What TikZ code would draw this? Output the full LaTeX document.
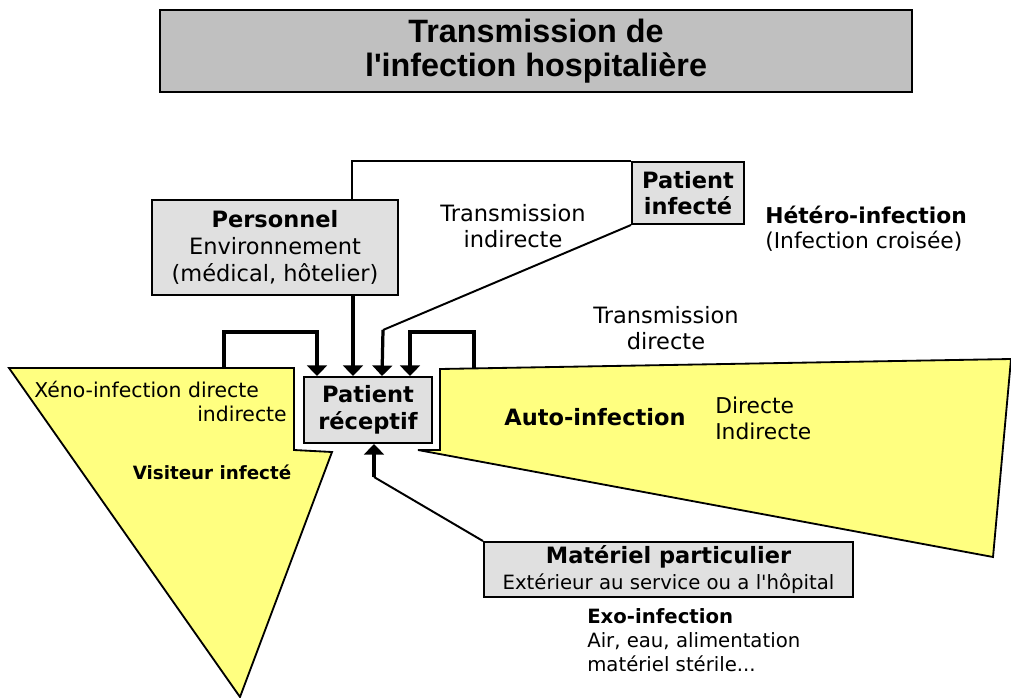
\documentclass[tikz,border=0pt]{standalone}
\usepackage{fontspec}
\setmainfont{DejaVu Sans}
\newfontfamily\titlefont{Liberation Sans}
\usetikzlibrary{arrows.meta}
\usetikzlibrary{calc}
\definecolor{boxgray}{RGB}{224,224,224}
\definecolor{titlegray}{RGB}{192,192,192}
\definecolor{paleyellow}{RGB}{255,255,128}
\tikzset{
	box/.style = {draw, line width=1.4pt, fill=boxgray, align=center, inner sep=0pt, font=\fontsize{16}{19.5}\selectfont},
	link/.style = {line width=1.4pt},
	feed/.style = {line width=2.3pt, -{Triangle[width=14pt,length=7.5pt]}},
	zone/.style = {draw, line width=1.3pt, fill=paleyellow},
	note/.style = {align=center, inner sep=0pt, font=\fontsize{16}{19}\selectfont},
}

\begin{document}
\begin{tikzpicture}[x=0.025cm, y=-0.025cm]
	\useasboundingbox (0,0) rectangle (1011,697);
	\coordinate (v1) at (9,368);
	\coordinate (v2) at (294,368);
	\coordinate (v3) at (294,450);
	\coordinate (v4) at (332,452);
	\coordinate (v5) at (240,697);
	\coordinate (a1) at (440,369);
	\coordinate (a2) at (1011,359);
	\coordinate (a3) at (993,557);
	\coordinate (a4) at (418,450);
	\coordinate (a5) at (440,450);
	\draw[zone] (v1) -- (v2) -- (v3) -- (v4) -- (v5) -- cycle;
	\draw[zone] (a1) -- (a2) -- (a3) -- (a4) -- (a5) -- cycle;

	\node[box, fill=titlegray, minimum width=18.8cm, minimum height=2.05cm, font=\titlefont\bfseries\fontsize{23}{24.5}\selectfont] (title) at (536,51) {Transmission de\\l\textquotesingle infection hospitalière};
	\node[box, minimum width=6.15cm, minimum height=2.375cm] (pers) at (275,247.5) {\textbf{Personnel}\\Environnement\\(médical, hôtelier)};
	\node[box, minimum width=2.8cm, minimum height=1.55cm, font=\bfseries\fontsize{16}{18}\selectfont] (inf) at (688,193) {Patient\\infecté};
	\node[box, minimum width=3.2cm, minimum height=1.65cm, font=\bfseries\fontsize{16}{19}\selectfont] (recv) at (368,410) {Patient\\réceptif};
	\node[box, minimum width=9.225cm, minimum height=1.375cm, font=\fontsize{16}{18.5}\selectfont] (mat) at (668.5,569.5) {\textbf{Matériel particulier}\\{\fontsize{14}{18.5}\selectfont Extérieur au service ou a l\textquotesingle hôpital}};

	\coordinate (in1) at ($(recv.north west)+(14,0)$);
	\coordinate (in2) at ($(recv.north west)+(50,0)$);
	\coordinate (in3) at ($(recv.north west)+(79,0)$);
	\coordinate (in4) at ($(recv.north west)+(107,0)$);
	\coordinate (k3) at (383,330);
	\coordinate (k5) at (374,477);
	\coordinate (vtop) at (224,368);
	\coordinate (atop) at (474,368);

	\draw[link] (pers.north) ++(77,0) |- (inf.north west);
	\draw[link] (inf.south west) -- (k3);
	\draw[feed] (k3) -- (in3);
	\draw[feed] (pers.south -| in2) -- (in2);
	\draw[feed] (vtop) -- ++(0,-36) -| (in1);
	\draw[feed] (atop) -- ++(0,-36) -| (in4);
	\draw[link] (mat.north west) -- (k5);
	\draw[feed] (k5) -- (recv.south -| k5);

	\node[note] (tind) at (513,226) {Transmission\\indirecte};
	\node[note, align=left, anchor=west, font=\fontsize{15.5}{18}\selectfont] (hetero) at (765,229) {\textbf{Hétéro-infection}\\(Infection croisée)};
	\node[note] (tdir) at (666,328) {Transmission\\directe};
	\node[note, anchor=west, font=\fontsize{14.5}{17}\selectfont] (xeno) at (34,389) {Xéno-infection directe};
	\node[note, anchor=east, font=\fontsize{14.5}{17}\selectfont] (xind) at (287,414) {indirecte};
	\node[note, font=\bfseries\fontsize{13}{15}\selectfont] (visit) at (212,472) {Visiteur infecté};
	\node[note, font=\bfseries\fontsize{16}{19}\selectfont] (auto) at (595,417) {Auto-infection};
	\node[note, align=left, anchor=west, font=\fontsize{15.5}{18.5}\selectfont] (autod) at (715,418) {Directe\\Indirecte};
	\node[note, align=left, anchor=west, font=\fontsize{14}{17}\selectfont] (exo) at (587,640) {\textbf{Exo-infection}\\Air, eau, alimentation\\matériel stérile...};
\end{tikzpicture}
\end{document}
